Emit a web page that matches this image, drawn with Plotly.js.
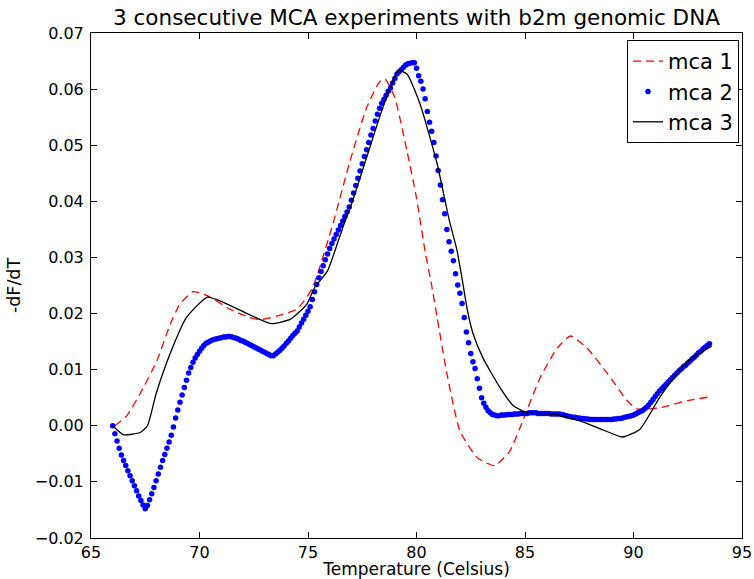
<!DOCTYPE html>
<html>
<head>
<meta charset="utf-8">
<script src="https://cdn.plot.ly/plotly-3.0.1.min.js"></script>
<style>
  html, body { margin: 0; padding: 0; background: white; }
  #chart { width: 754px; height: 579px; }
</style>
</head>
<body>
<div id="chart"></div>
<script>
// ---- data ----
const chartTitle = '3 consecutive MCA experiments with b2m genomic DNA';
const xLabel = 'Temperature (Celsius)';
const yLabel = '-dF/dT';
const seriesNames = ['mca 1', 'mca 2', 'mca 3'];

const xTicks = [65, 70, 75, 80, 85, 90, 95];
const yTicks = [-0.02, -0.01, 0.00, 0.01, 0.02, 0.03, 0.04, 0.05, 0.06, 0.07];

// mca 1 (red dashed)
const mca1Temp = [66.1, 66.65, 67.26, 68.04, 68.64, 69.1, 69.7, 70.35, 71.4, 72.3, 72.8, 73.6, 74.5, 75.2,
  76.15, 76.9, 77.7, 78.3, 78.55, 79.0, 79.56, 80.0, 80.4, 80.7, 80.95, 81.4, 82.0, 82.8, 83.6, 84.3,
  84.9, 85.7, 86.5, 87.1, 87.85, 88.8, 89.7, 90.16, 91.2, 92.5, 93.6];
const mca1Val = [0.0000, 0.0018, 0.0057, 0.0116, 0.0180, 0.0217, 0.0239, 0.0232, 0.0208, 0.0193, 0.0189, 0.0196, 0.0208, 0.0245,
  0.0360, 0.0467, 0.0567, 0.0613, 0.0618, 0.0585, 0.0490, 0.0406, 0.0310, 0.0250, 0.0193, 0.0093, -0.0009, -0.0057, -0.0071, -0.0045,
  0.0009, 0.0086, 0.0139, 0.0160, 0.0139, 0.0093, 0.0045, 0.0030, 0.0032, 0.0045, 0.0052];

// mca 2 (blue dots)
const mca2Temp = [
  66.0, 66.1, 66.2, 66.3, 66.4, 66.5, 66.6, 66.7, 66.8, 66.9,
  67.0, 67.1, 67.2, 67.3, 67.4, 67.5, 67.6, 67.7, 67.8, 67.9,
  68.0, 68.1, 68.2, 68.3, 68.4, 68.5, 68.6, 68.7, 68.8, 68.9,
  69.0, 69.1, 69.2, 69.3, 69.4, 69.5, 69.6, 69.7, 69.8, 69.9,
  70.0, 70.1, 70.2, 70.3, 70.4, 70.5, 70.6, 70.7, 70.8, 70.9,
  71.0, 71.1, 71.2, 71.3, 71.4, 71.5, 71.6, 71.7, 71.8, 71.9,
  72.0, 72.1, 72.2, 72.3, 72.4, 72.5, 72.6, 72.7, 72.8, 72.9,
  73.0, 73.1, 73.2, 73.3, 73.4, 73.5, 73.6, 73.7, 73.8, 73.9,
  74.0, 74.1, 74.2, 74.3, 74.4, 74.5, 74.6, 74.7, 74.8, 74.9,
  75.0, 75.1, 75.2, 75.3, 75.4, 75.5, 75.6, 75.7, 75.8, 75.9,
  76.0, 76.1, 76.2, 76.3, 76.4, 76.5, 76.6, 76.7, 76.8, 76.9,
  77.0, 77.1, 77.2, 77.3, 77.4, 77.5, 77.6, 77.7, 77.8, 77.9,
  78.0, 78.1, 78.2, 78.3, 78.4, 78.5, 78.6, 78.7, 78.8, 78.9,
  79.0, 79.1, 79.2, 79.3, 79.4, 79.5, 79.6, 79.7, 79.8, 79.9,
  80.0, 80.1, 80.2, 80.3, 80.4, 80.5, 80.6, 80.7, 80.8, 80.9,
  81.0, 81.1, 81.2, 81.3, 81.4, 81.5, 81.6, 81.7, 81.8, 81.9,
  82.0, 82.1, 82.2, 82.3, 82.4, 82.5, 82.6, 82.7, 82.8, 82.9,
  83.0, 83.1, 83.2, 83.3, 83.4, 83.5, 83.6, 83.7, 83.8, 83.9,
  84.0, 84.1, 84.2, 84.3, 84.4, 84.5, 84.6, 84.7, 84.8, 84.9,
  85.0, 85.1, 85.2, 85.3, 85.4, 85.5, 85.6, 85.7, 85.8, 85.9,
  86.0, 86.1, 86.2, 86.3, 86.4, 86.5, 86.6, 86.7, 86.8, 86.9,
  87.0, 87.1, 87.2, 87.3, 87.4, 87.5, 87.6, 87.7, 87.8, 87.9,
  88.0, 88.1, 88.2, 88.3, 88.4, 88.5, 88.6, 88.7, 88.8, 88.9,
  89.0, 89.1, 89.2, 89.3, 89.4, 89.5, 89.6, 89.7, 89.8, 89.9,
  90.0, 90.1, 90.2, 90.3, 90.4, 90.5, 90.6, 90.7, 90.8, 90.9,
  91.0, 91.1, 91.2, 91.3, 91.4, 91.5, 91.6, 91.7, 91.8, 91.9,
  92.0, 92.1, 92.2, 92.3, 92.4, 92.5, 92.6, 92.7, 92.8, 92.9,
  93.0, 93.1, 93.2, 93.3, 93.4, 93.5];
const mca2Val = [
  0.0000, -0.0014, -0.0027, -0.0040, -0.0052, -0.0062, -0.0071, -0.0080, -0.0089, -0.0098,
  -0.0107, -0.0116, -0.0125, -0.0133, -0.0141, -0.0148, -0.0142, -0.0132, -0.0121, -0.0110,
  -0.0098, -0.0086, -0.0074, -0.0062, -0.0051, -0.0040, -0.0029, -0.0017, -0.0002, 0.0014,
  0.0028, 0.0042, 0.0055, 0.0068, 0.0081, 0.0094, 0.0104, 0.0113, 0.0121, 0.0127,
  0.0133, 0.0138, 0.0143, 0.0147, 0.0149, 0.0151, 0.0153, 0.0154, 0.0155, 0.0156,
  0.0157, 0.0158, 0.0158, 0.0159, 0.0159, 0.0158, 0.0157, 0.0156, 0.0154, 0.0152,
  0.0151, 0.0149, 0.0147, 0.0145, 0.0143, 0.0141, 0.0139, 0.0137, 0.0135, 0.0133,
  0.0131, 0.0129, 0.0127, 0.0125, 0.0125, 0.0128, 0.0131, 0.0134, 0.0138, 0.0142,
  0.0147, 0.0151, 0.0156, 0.0161, 0.0165, 0.0169, 0.0176, 0.0183, 0.0190, 0.0197,
  0.0204, 0.0212, 0.0225, 0.0239, 0.0252, 0.0264, 0.0275, 0.0285, 0.0296, 0.0306,
  0.0316, 0.0325, 0.0333, 0.0341, 0.0349, 0.0357, 0.0365, 0.0373, 0.0381, 0.0390,
  0.0402, 0.0415, 0.0428, 0.0441, 0.0454, 0.0467, 0.0480, 0.0492, 0.0505, 0.0518,
  0.0530, 0.0543, 0.0555, 0.0566, 0.0575, 0.0582, 0.0589, 0.0596, 0.0602, 0.0611,
  0.0619, 0.0627, 0.0631, 0.0635, 0.0639, 0.0643, 0.0645, 0.0646, 0.0647, 0.0647,
  0.0637, 0.0624, 0.0614, 0.0600, 0.0583, 0.0560, 0.0541, 0.0525, 0.0505, 0.0481,
  0.0455, 0.0429, 0.0403, 0.0378, 0.0350, 0.0328, 0.0311, 0.0294, 0.0271, 0.0251,
  0.0236, 0.0218, 0.0193, 0.0167, 0.0148, 0.0129, 0.0114, 0.0102, 0.0084, 0.0067,
  0.0050, 0.0040, 0.0033, 0.0027, 0.0023, 0.0020, 0.0019, 0.0018, 0.0018, 0.0019,
  0.0019, 0.0019, 0.0020, 0.0020, 0.0020, 0.0021, 0.0021, 0.0021, 0.0022, 0.0022,
  0.0022, 0.0022, 0.0023, 0.0023, 0.0023, 0.0023, 0.0022, 0.0022, 0.0022, 0.0022,
  0.0022, 0.0022, 0.0021, 0.0021, 0.0021, 0.0021, 0.0021, 0.0020, 0.0019, 0.0018,
  0.0017, 0.0016, 0.0015, 0.0015, 0.0014, 0.0014, 0.0013, 0.0013, 0.0012, 0.0012,
  0.0011, 0.0011, 0.0011, 0.0011, 0.0011, 0.0011, 0.0011, 0.0011, 0.0011, 0.0011,
  0.0011, 0.0012, 0.0012, 0.0013, 0.0013, 0.0014, 0.0015, 0.0016, 0.0017, 0.0018,
  0.0019, 0.0021, 0.0023, 0.0025, 0.0027, 0.0030, 0.0033, 0.0037, 0.0042, 0.0047,
  0.0052, 0.0057, 0.0062, 0.0066, 0.0070, 0.0074, 0.0078, 0.0082, 0.0086, 0.0090,
  0.0094, 0.0098, 0.0101, 0.0105, 0.0108, 0.0112, 0.0115, 0.0119, 0.0122, 0.0126,
  0.0130, 0.0133, 0.0137, 0.0140, 0.0143, 0.0146];

// mca 3 (black solid)
const mca3Temp = [66.0, 66.5, 67.26, 67.6, 68.0, 68.64, 69.4, 70.35, 71.1, 72.2, 73.3, 74.2, 74.95, 75.3,
  75.9, 76.6, 77.1, 77.7, 78.45, 79.15, 79.56, 80.16, 80.95, 81.5, 81.87, 82.14, 82.35, 82.6, 83.06, 83.85,
  84.45, 85.1, 86.3, 87.5, 88.45, 89.5, 90.3, 91.2, 92.1, 92.7, 93.6];
const mca3Val = [0.0000, -0.0016, -0.0012, 0.0000, 0.0057, 0.0128, 0.0193, 0.0229, 0.0220, 0.0200, 0.0182, 0.0190, 0.0217, 0.0246,
  0.0276, 0.0353, 0.0406, 0.0478, 0.0567, 0.0633, 0.0627, 0.0574, 0.0467, 0.0368, 0.0312, 0.0253, 0.0205, 0.0165, 0.0121, 0.0068,
  0.0036, 0.0023, 0.0021, 0.0009, -0.0005, -0.0020, -0.0006, 0.0050, 0.0098, 0.0121, 0.0142];

// ---- chart ----
const traces = [
  {
    x: mca1Temp, y: mca1Val, name: seriesNames[0], type: 'scatter', mode: 'lines',
    line: {color: '#ff0000', width: 1.3, dash: '8px,5px', shape: 'spline', smoothing: 0.5}
  },
  {
    x: mca2Temp, y: mca2Val, name: seriesNames[1], type: 'scatter', mode: 'markers',
    marker: {color: '#0000ff', size: 5.5, line: {width: 0}}
  },
  {
    x: mca3Temp, y: mca3Val, name: seriesNames[2], type: 'scatter', mode: 'lines',
    line: {color: '#000000', width: 1.3, shape: 'spline', smoothing: 0.5}
  }
];

const axisCommon = {
  showline: true, mirror: 'ticks', linecolor: 'black', linewidth: 1,
  ticks: 'inside', ticklen: 6, tickwidth: 1, tickcolor: 'black',
  showgrid: false, zeroline: false,
  tickfont: {family: 'DejaVu Sans', size: 16, color: 'black'}
};

const layout = {
  width: 754, height: 579,
  margin: {l: 91, r: 12, t: 33, b: 41},
  paper_bgcolor: 'white', plot_bgcolor: 'white',
  font: {family: 'DejaVu Sans', size: 16, color: 'black'},
  title: {
    text: chartTitle, font: {family: 'DejaVu Sans', size: 21.5, color: 'black'},
    x: 0.5, xref: 'paper', xanchor: 'center', y: 1 - 17 / 579, yref: 'container', yanchor: 'middle'
  },
  xaxis: Object.assign({}, axisCommon, {
    range: [65, 95], tickmode: 'array', tickvals: xTicks, ticktext: xTicks.map(String),
    title: {text: xLabel, standoff: 6, font: {family: 'DejaVu Sans', size: 17, color: 'black'}}
  }),
  yaxis: Object.assign({}, axisCommon, {
    range: [-0.02, 0.07], tickmode: 'array', tickvals: yTicks, tickformat: '.2f',
    ticklabelstandoff: 3,
    title: {text: yLabel, standoff: 9, font: {family: 'DejaVu Sans', size: 17.5, color: 'black'}}
  }),
  showlegend: true,
  legend: {
    x: 0.9954, xanchor: 'right', y: 0.986, yanchor: 'top',
    bgcolor: 'white', bordercolor: 'black', borderwidth: 1,
    font: {family: 'DejaVu Sans', size: 21, color: 'black'}
  }
};

Plotly.newPlot('chart', traces, layout, {displayModeBar: false, staticPlot: true});
</script>
</body>
</html>
